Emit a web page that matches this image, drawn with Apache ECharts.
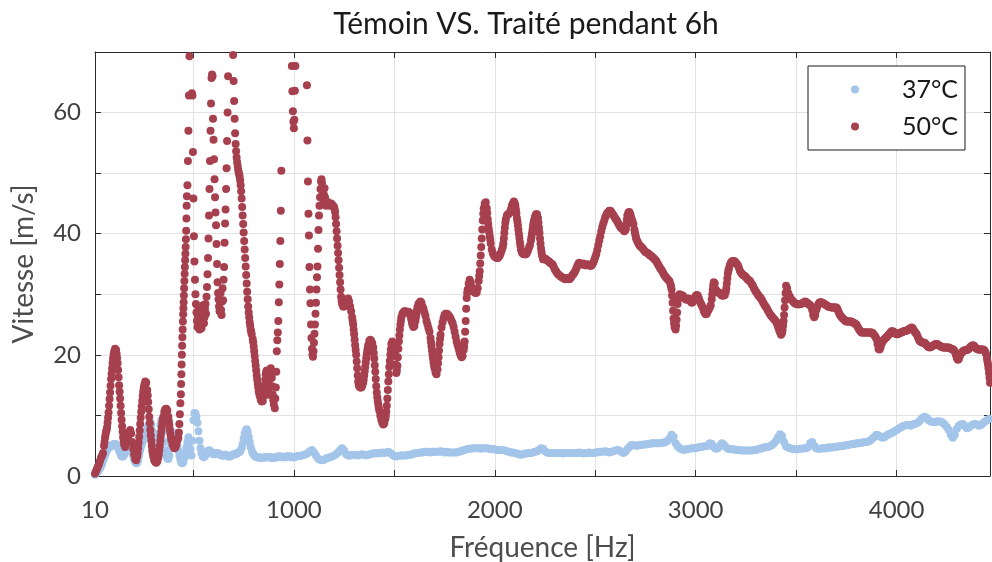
<!DOCTYPE html>
<html>
<head>
<meta charset="utf-8">
<script src="https://cdn.jsdelivr.net/npm/echarts@6/dist/echarts.min.js"></script>
<style>
  html, body { margin: 0; padding: 0; background: #ffffff; }
  #chart { width: 992px; height: 562px; }
</style>
</head>
<body>
<div id="chart"></div>
<script>
const titleText = 'Témoin VS. Traité pendant 6h';
const xName = 'Fréquence [Hz]';
const yName = 'Vitesse [m/s]';
const seriesNames = ['37°C', '50°C'];
const xLabelTicks = [10, 1000, 2000, 3000, 4000];
const xGridTicks = [10, 500, 1000, 1500, 2000, 2500, 3000, 3500, 4000];
const yLabelTicks = [0, 20, 40, 60];
const xMin = 10, xMax = 4465, yMin = 0, yMax = 70;

// 37 °C : 5 Hz resolution up to 1005 Hz
const v37LowStart = 10, v37LowStep = 5;
const v37Low = [
  0.2, 0.4, 0.6, 0.8, 1.0, 1.3, 1.6, 2.0, 2.5, 3.0,
  3.4, 3.8, 4.2, 4.5, 4.7, 4.8, 5.0, 5.1, 5.2, 5.3,
  5.3, 5.2, 5.0, 4.6, 4.2, 3.8, 3.4, 3.2, 3.2, 3.5,
  3.9, 4.2, 4.6, 5.0, 5.3, 5.2, 4.6, 3.8, 3.2, 2.7,
  2.3, 2.1, 2.2, 2.6, 3.4, 4.2, 4.9, 5.5, 6.0, 6.4,
  6.8, 7.2, 7.7, 8.3, 8.8, 8.9, 8.4, 7.4, 6.4, 5.4,
  4.6, 4.2, 4.4, 5.4, 7.0, 8.4, 9.2, 8.8, 7.4, 5.6,
  4.2, 3.4, 2.9, 2.8, 3.4, 4.6, 5.9, 6.6, 7.0, 7.1,
  6.8, 6.0, 5.0, 4.2, 3.4, 2.7, 2.2, 2.1, 2.3, 3.0,
  3.9, 4.7, 5.6, 6.4, 5.6, 4.4, 3.4, 5.8, 9.2, 10.4,
  10.3, 9.8, 8.8, 7.4, 5.8, 4.6, 3.8, 3.3, 3.1, 3.2,
  3.4, 3.7, 4.0, 4.2, 4.2, 4.1, 3.9, 3.7, 3.6, 3.6,
  3.7, 3.8, 3.8, 3.7, 3.6, 3.5, 3.4, 3.4, 3.4, 3.5,
  3.5, 3.4, 3.3, 3.2, 3.2, 3.3, 3.4, 3.5, 3.6, 3.6,
  3.6, 3.7, 3.8, 3.9, 4.0, 4.2, 4.6, 5.3, 6.2, 7.0,
  7.5, 7.7, 7.3, 6.5, 5.6, 4.8, 4.2, 3.8, 3.5, 3.3,
  3.2, 3.1, 3.1, 3.1, 3.0, 3.0, 3.0, 3.0, 3.0, 3.1,
  3.1, 3.1, 3.1, 3.1, 3.1, 3.0, 3.0, 3.0, 3.0, 3.0,
  3.1, 3.1, 3.2, 3.2, 3.2, 3.2, 3.1, 3.1, 3.1, 3.1,
  3.2, 3.2, 3.2, 3.2, 3.2, 3.2, 3.1, 3.1, 3.1, 3.1
];
// 37 °C : 10 Hz resolution from 1010 Hz
const v37HighStart = 1010, v37HighStep = 10;
const v37High = [
  3.2, 3.3, 3.3, 3.4, 3.5, 3.6, 3.8, 4.1, 4.3, 3.9,
  3.4, 2.9, 2.7, 2.6, 2.7, 2.9, 3.0, 3.1, 3.2, 3.4,
  3.6, 3.9, 4.3, 4.6, 4.2, 3.6, 3.4, 3.4, 3.5, 3.5,
  3.5, 3.4, 3.5, 3.6, 3.5, 3.4, 3.5, 3.6, 3.7, 3.7,
  3.8, 3.7, 3.8, 3.9, 3.8, 3.9, 4.0, 3.8, 3.5, 3.3,
  3.2, 3.3, 3.4, 3.4, 3.4, 3.4, 3.5, 3.5, 3.6, 3.7,
  3.8, 3.8, 3.9, 3.9, 4.0, 4.0, 4.0, 3.9, 4.0, 4.0,
  4.0, 4.0, 4.1, 4.0, 3.9, 4.0, 3.9, 3.9, 3.9, 3.9,
  3.9, 4.0, 4.1, 4.2, 4.3, 4.4, 4.5, 4.5, 4.6, 4.6,
  4.6, 4.6, 4.5, 4.6, 4.6, 4.6, 4.5, 4.5, 4.4, 4.4,
  4.3, 4.3, 4.3, 4.3, 4.2, 4.1, 4.0, 3.9, 3.9, 3.8,
  3.7, 3.6, 3.5, 3.6, 3.7, 3.7, 3.8, 3.8, 3.9, 4.0,
  4.1, 4.3, 4.6, 4.5, 4.1, 3.9, 3.8, 3.8, 3.8, 3.8,
  3.8, 3.8, 3.8, 3.7, 3.8, 3.8, 3.8, 3.8, 3.8, 3.8,
  3.8, 3.9, 3.8, 3.7, 3.8, 3.8, 3.9, 3.8, 3.8, 3.9,
  3.9, 4.0, 4.0, 4.0, 4.1, 4.0, 3.9, 4.0, 4.1, 4.2,
  4.3, 4.2, 4.0, 3.8, 4.0, 4.4, 4.8, 5.1, 5.1, 5.0,
  5.0, 5.1, 5.1, 5.2, 5.2, 5.3, 5.3, 5.4, 5.4, 5.4,
  5.4, 5.4, 5.5, 5.5, 5.6, 5.8, 6.2, 6.8, 6.5, 5.4,
  4.9, 4.6, 4.4, 4.3, 4.4, 4.4, 4.5, 4.6, 4.6, 4.6,
  4.7, 4.8, 4.8, 4.9, 4.9, 5.0, 5.4, 5.3, 4.8, 4.5,
  4.6, 5.0, 5.4, 5.2, 4.8, 4.5, 4.4, 4.4, 4.4, 4.3,
  4.3, 4.3, 4.2, 4.2, 4.2, 4.2, 4.2, 4.2, 4.3, 4.3,
  4.4, 4.5, 4.6, 4.7, 4.8, 4.8, 4.9, 5.1, 5.4, 5.8,
  6.4, 6.9, 6.6, 5.6, 4.9, 4.7, 4.6, 4.5, 4.4, 4.4,
  4.4, 4.5, 4.5, 4.6, 4.6, 4.8, 5.4, 5.6, 5.0, 4.6,
  4.5, 4.5, 4.6, 4.6, 4.6, 4.7, 4.7, 4.7, 4.8, 4.8,
  4.9, 4.9, 5.0, 5.0, 5.1, 5.1, 5.2, 5.3, 5.3, 5.4,
  5.4, 5.5, 5.5, 5.6, 5.6, 5.7, 5.9, 6.2, 6.5, 6.8,
  6.7, 6.5, 6.3, 6.4, 6.7, 6.9, 7.0, 7.2, 7.4, 7.6,
  7.8, 8.0, 8.2, 8.3, 8.4, 8.4, 8.3, 8.5, 8.6, 8.7,
  8.9, 9.3, 9.6, 9.8, 9.6, 9.2, 9.0, 8.9, 8.9, 9.0,
  9.0, 9.0, 8.8, 8.5, 8.1, 7.6, 6.8, 6.3, 6.8, 7.8,
  8.3, 8.5, 8.6, 8.3, 7.9, 8.0, 8.3, 8.5, 8.6, 8.5,
  8.3, 8.4, 8.7, 9.0, 9.2, 9.4
];

// 50 °C : 5 Hz resolution from 10 to 435 Hz
const v50LowStart = 10, v50LowStep = 5;
const v50Low = [
  0.4, 0.8, 1.2, 1.6, 2.0, 2.5, 3.0, 3.4, 3.8, 5.0,
  6.3, 7.3, 8.0, 9.6, 11.6, 13.8, 16.0, 17.8, 19.4, 20.5,
  21.0, 20.8, 19.5, 17.5, 15.0, 12.8, 10.4, 8.2, 6.4, 5.2,
  4.8, 5.3, 5.8, 6.5, 7.2, 7.6, 7.0, 5.6, 4.5, 3.6,
  2.8, 2.6, 3.2, 4.6, 6.5, 8.6, 10.6, 12.4, 13.9, 15.0,
  15.6, 15.4, 14.2, 12.2, 9.8, 7.6, 5.8, 4.2, 3.2, 2.6,
  2.3, 2.2, 2.4, 3.0, 4.2, 5.8, 7.4, 8.8, 9.8, 10.6,
  11.0, 11.1, 10.8, 9.8, 8.4, 7.0, 6.0, 5.3, 4.9, 4.6,
  4.7, 5.2, 5.9, 6.3, 8.6, 12.0
];
// 50 °C : resonance band 437–1160 Hz, finer and irregular sampling [Hz, m/s]
const v50Resonance = [
  [437.5, 13.5], [438.75, 15.2], [440, 16.8], [441.25, 18.4], [442.5, 20.0], [443.75, 21.5],
  [445, 22.9], [446.25, 24.2], [447.5, 25.5], [448.75, 26.7], [450, 27.7], [451.25, 28.7],
  [452.5, 29.8], [453.75, 31.0], [455, 32.2], [456.25, 33.4], [457.5, 34.5], [458.75, 35.6],
  [460, 36.7], [461.25, 37.8], [462.5, 39.1], [463.75, 40.5], [465, 42.5], [466.25, 44.6],
  [467.5, 46.2], [470, 48.0], [472.5, 52.0], [475, 57.0], [477.5, 62.8], [480, 69.3],
  [482.5, 73.5], [485, 76.0], [487.5, 74.0], [490, 71.0], [492.5, 63.2], [495, 62.8],
  [497.5, 53.5], [500, 45.8], [502.5, 39.6], [505, 35.4], [507.5, 32.4], [510, 30.0],
  [512.5, 28.4], [515, 27.0], [517.5, 25.6], [520, 24.6], [522.5, 26.2], [525, 27.8],
  [527.5, 25.2], [530, 24.2], [532.5, 25.8], [535, 27.4], [537.5, 26.0], [540, 24.4],
  [542.5, 25.0], [545, 26.8], [547.5, 28.2], [550, 26.4], [552.5, 25.2], [555, 26.2],
  [557.5, 27.6], [560, 28.4], [562.5, 26.8], [565, 29.6], [567.5, 31.2], [570, 33.3],
  [572.5, 36.0], [575, 39.2], [577.5, 43.0], [580, 47.4], [582.5, 52.0], [585, 57.0],
  [587.5, 61.5], [590, 65.7], [592.5, 66.3], [595, 66.0], [597.5, 59.0], [600, 55.5],
  [602.5, 52.3], [605, 49.0], [607.5, 46.0], [610, 43.5], [612.5, 41.4], [615, 38.3],
  [617.5, 35.0], [620, 32.0], [622.5, 30.2], [625, 29.2], [627.5, 28.0], [630, 27.2],
  [632.5, 28.6], [635, 30.2], [637.5, 27.4], [640, 26.6], [642.5, 28.8], [645, 31.0],
  [647.5, 29.0], [650, 32.4], [652.5, 34.5], [655, 38.5], [657.5, 41.7], [660, 44.0],
  [662.5, 47.4], [665, 50.8], [667.5, 55.3], [670, 60.0], [672.5, 66.0], [675, 73.0],
  [680, 77.0], [685, 78.0], [690, 75.0], [695, 71.5], [697.5, 69.5], [700, 65.2],
  [702.5, 61.9], [705, 59.0], [707.5, 56.6], [710, 54.8], [712.5, 53.6], [715, 52.6],
  [717.5, 51.8], [720, 51.2], [722.5, 50.6], [725, 50.2], [727.5, 49.8], [730, 49.4],
  [732.5, 48.8], [735, 48.0], [737.5, 47.0], [740, 45.8], [742.5, 44.4], [745, 43.0],
  [747.5, 41.6], [750, 40.2], [752.5, 38.8], [755, 37.4], [757.5, 36.0], [760, 34.6],
  [762.5, 33.2], [765, 31.8], [767.5, 30.4], [770, 29.2], [772.5, 28.0], [775, 27.0],
  [777.5, 26.2], [780, 25.4], [782.5, 24.8], [785, 24.2], [787.5, 23.8], [790, 23.4],
  [795, 22.6], [800, 21.4], [805, 19.8], [810, 18.2], [815, 16.6], [820, 15.2],
  [825, 14.0], [830, 13.2], [835, 12.6], [840, 12.3], [845, 12.4], [850, 13.2],
  [855, 15.0], [860, 16.8], [865, 17.4], [870, 15.2], [875, 13.4], [880, 16.0],
  [885, 17.8], [890, 16.2], [895, 13.4], [900, 11.8], [905, 11.2], [907.5, 12.8],
  [910, 14.6], [912.5, 17.2], [915, 20.6], [917.5, 22.4], [920, 23.7], [922.5, 25.6],
  [925, 28.7], [927.5, 31.6], [930, 35.0], [932.5, 38.8], [935, 43.8], [937.5, 50.4],
  [940, 72.0], [950, 80.0], [960, 82.0], [970, 80.0], [980, 75.0], [987.5, 71.0],
  [990, 67.7], [992.5, 63.5], [995, 60.2], [997.5, 58.5], [1000, 57.4], [1002.5, 58.8],
  [1005, 63.6], [1007.5, 67.7], [1010, 72.0], [1020, 76.0], [1030, 80.0], [1040, 80.0],
  [1050, 77.0], [1060, 72.0], [1065, 64.5], [1067.5, 55.4], [1070, 48.6], [1072.5, 43.3],
  [1075, 39.7], [1077.5, 34.5], [1080, 30.8], [1082.5, 28.5], [1085, 25.0], [1087.5, 22.8],
  [1090, 21.0], [1092.5, 20.0], [1095, 19.7], [1097.5, 20.6], [1100, 22.0], [1102.5, 23.5],
  [1105, 25.0], [1107.5, 26.8], [1110, 28.6], [1112.5, 30.8], [1115, 32.8], [1117.5, 34.6],
  [1120, 37.5], [1122.5, 40.6], [1125, 43.0], [1127.5, 44.6], [1130, 46.0], [1132.5, 47.4],
  [1135, 48.6], [1137.5, 49.0], [1140, 48.4], [1142.5, 47.0], [1145, 46.0], [1147.5, 45.4],
  [1150, 46.4], [1152.5, 47.5], [1155, 46.0], [1157.5, 44.8], [1160, 44.6]
];
// 50 °C : 5 Hz resolution from 1165 Hz
const v50HighStart = 1165, v50HighStep = 5;
const v50High = [
  44.8, 45.2, 45.0, 44.6, 45.0, 44.8, 44.6, 44.4, 43.6, 41.6, 39.2, 36.8, 34.4, 32.0, 29.6, 28.4, 28.0, 28.0, 28.2, 28.6,
  29.0, 29.3, 28.8, 28.0, 27.2, 26.2, 25.0, 23.4, 21.6, 20.0, 17.8, 15.6, 14.8, 14.6, 14.6, 14.8, 15.4, 16.6, 18.0, 19.4,
  20.6, 21.6, 22.3, 22.5, 22.3, 21.9, 21.2, 19.4, 17.2, 14.8, 13.0, 11.8, 10.8, 10.0, 9.3, 8.8, 8.5, 8.7, 9.4, 10.6,
  12.8, 15.6, 18.0, 20.0, 21.8, 22.2, 21.8, 21.2, 19.8, 17.0, 18.2, 21.0, 23.2, 25.0, 26.2, 26.8, 27.0, 27.2, 27.2, 27.0,
  27.0, 27.1, 27.0, 26.6, 25.8, 25.0, 24.6, 24.8, 25.6, 26.8, 27.8, 28.4, 28.6, 28.8, 28.6, 28.0, 27.6, 27.0, 26.4, 25.6,
  25.0, 24.4, 23.8, 22.8, 21.4, 20.0, 18.8, 17.8, 17.1, 16.8, 17.6, 19.6, 21.8, 23.3, 24.5, 25.4, 26.1, 26.6, 26.8, 26.8,
  26.7, 26.5, 26.3, 26.0, 25.6, 25.2, 24.6, 23.8, 23.0, 22.2, 21.6, 21.0, 20.4, 19.9, 19.6, 19.8, 20.8, 22.2, 25.6, 29.4,
  30.8, 31.8, 32.4, 32.0, 31.2, 30.8, 30.5, 30.3, 30.2, 30.3, 31.0, 32.2, 33.8, 36.4, 39.2, 42.2, 44.2, 45.0, 45.2, 44.2,
  42.4, 40.8, 39.6, 38.4, 37.4, 36.8, 36.4, 36.2, 36.1, 36.0, 36.0, 36.2, 36.4, 36.8, 37.3, 37.8, 39.2, 41.0, 42.4, 43.0,
  43.2, 43.3, 43.5, 44.0, 44.6, 45.0, 45.3, 45.0, 44.0, 42.6, 41.4, 40.0, 38.6, 37.4, 36.9, 36.7, 36.6, 36.6, 36.6, 36.8,
  37.2, 37.7, 38.1, 38.9, 40.0, 41.2, 42.2, 42.8, 43.2, 43.2, 42.6, 41.0, 39.2, 37.6, 36.4, 35.8, 35.8, 35.9, 35.8, 35.6,
  35.5, 35.4, 35.2, 35.1, 35.0, 34.8, 34.4, 34.0, 33.8, 33.5, 33.3, 33.2, 33.0, 32.9, 32.8, 32.7, 32.6, 32.5, 32.6, 32.7,
  32.6, 32.5, 32.6, 32.8, 33.1, 33.3, 33.5, 33.8, 34.2, 34.6, 35.0, 35.2, 35.0, 34.9, 35.0, 35.1, 35.0, 34.8, 34.8, 34.9,
  34.9, 34.8, 34.7, 34.7, 34.9, 35.2, 35.6, 36.1, 36.6, 37.3, 38.1, 38.9, 39.6, 40.4, 41.1, 41.7, 42.2, 42.7, 43.1, 43.4,
  43.6, 43.8, 43.8, 43.6, 43.3, 43.1, 42.8, 42.5, 42.3, 42.0, 41.7, 41.4, 41.1, 40.9, 40.8, 40.6, 40.4, 40.6, 41.6, 43.0,
  43.5, 43.6, 43.2, 42.6, 42.1, 41.6, 40.7, 39.8, 39.1, 38.7, 38.4, 38.1, 37.9, 37.8, 37.6, 37.4, 37.2, 37.0, 36.9, 36.8,
  36.7, 36.5, 36.4, 36.3, 36.1, 36.0, 35.8, 35.6, 35.4, 35.1, 34.8, 34.5, 34.2, 34.0, 33.7, 33.4, 33.1, 32.9, 32.7, 32.5,
  32.3, 32.1, 31.6, 30.8, 28.6, 26.0, 24.6, 24.2, 25.8, 28.4, 29.8, 30.0, 29.9, 29.8, 29.8, 29.6, 29.4, 29.2, 29.1, 29.2,
  29.3, 29.1, 28.8, 28.6, 28.7, 29.0, 29.4, 29.7, 29.9, 29.8, 29.4, 28.9, 28.5, 28.2, 27.8, 27.3, 26.9, 26.7, 26.8, 27.2,
  27.5, 27.8, 28.2, 29.2, 30.8, 32.0, 31.8, 30.8, 30.4, 30.3, 30.3, 30.2, 30.0, 29.8, 29.8, 29.8, 29.9, 30.4, 31.8, 33.4,
  34.2, 34.8, 35.2, 35.4, 35.5, 35.5, 35.4, 35.2, 35.0, 34.8, 34.4, 33.9, 33.6, 33.4, 33.2, 33.1, 33.0, 32.8, 32.6, 32.4,
  32.3, 32.2, 31.9, 31.6, 31.4, 31.0, 30.7, 30.4, 30.2, 29.9, 29.7, 29.5, 29.3, 29.0, 28.7, 28.4, 28.1, 27.9, 27.6, 27.3,
  27.0, 26.7, 26.5, 26.3, 26.1, 25.9, 25.7, 25.5, 25.1, 24.6, 24.1, 23.7, 23.3, 23.6, 24.8, 26.6, 29.0, 31.4, 31.0, 30.2,
  29.8, 29.5, 29.2, 29.0, 28.8, 28.6, 28.5, 28.4, 28.4, 28.3, 28.4, 28.4, 28.4, 28.5, 28.6, 28.7, 28.8, 28.7, 28.6, 28.4,
  28.3, 28.2, 28.0, 27.4, 26.6, 26.2, 26.6, 27.4, 27.9, 28.3, 28.6, 28.7, 28.7, 28.6, 28.5, 28.4, 28.3, 28.2, 28.1, 28.0,
  27.9, 27.9, 27.8, 27.8, 27.8, 27.8, 27.8, 27.8, 27.6, 27.2, 26.8, 26.5, 26.3, 26.1, 25.9, 25.8, 25.6, 25.5, 25.5, 25.5,
  25.5, 25.5, 25.5, 25.4, 25.3, 25.2, 25.1, 25.0, 24.7, 24.4, 24.1, 23.9, 23.7, 23.7, 23.7, 23.7, 23.7, 23.7, 23.7, 23.7,
  23.7, 23.7, 23.7, 23.6, 23.4, 23.2, 23.0, 22.6, 21.8, 21.0, 20.9, 21.2, 21.8, 22.2, 22.4, 22.6, 22.8, 22.9, 23.1, 23.3,
  23.5, 23.7, 23.9, 23.9, 23.8, 23.6, 23.5, 23.4, 23.4, 23.5, 23.6, 23.7, 23.7, 23.8, 23.9, 23.9, 24.0, 24.0, 24.1, 24.2,
  24.3, 24.4, 24.5, 24.4, 24.1, 23.8, 23.6, 23.4, 23.0, 22.6, 22.3, 22.2, 22.1, 22.0, 22.0, 22.0, 21.8, 21.6, 21.4, 21.3,
  21.2, 21.3, 21.4, 21.5, 21.6, 21.7, 21.8, 21.8, 21.7, 21.6, 21.5, 21.4, 21.3, 21.2, 21.2, 21.2, 21.2, 21.2, 21.2, 21.2,
  21.1, 21.0, 21.0, 20.9, 20.8, 20.5, 20.0, 19.5, 19.2, 19.3, 19.8, 20.2, 20.4, 20.6, 20.7, 20.7, 20.8, 20.8, 20.9, 21.0,
  21.2, 21.4, 21.5, 21.6, 21.5, 21.3, 21.1, 21.0, 20.9, 20.9, 20.9, 20.9, 20.9, 20.9, 20.8, 20.6, 20.2, 19.4, 18.4, 17.0, 15.4
];
// 50 °C : extra readings on the steep flanks, half-way between the 5 Hz samples [Hz, m/s]
const v50Flanks = [
  [57.5, 5.6], [62.5, 6.8], [67.5, 7.6], [72.5, 8.8], [77.5, 10.5], [82.5, 12.7], [87.5, 14.9],
  [92.5, 16.9], [97.5, 18.6], [102.5, 20.0], [117.5, 20.2], [122.5, 18.6], [127.5, 16.3],
  [132.5, 13.9], [137.5, 11.6], [142.5, 9.3], [147.5, 7.3], [152.5, 5.8],
  [222.5, 3.8], [227.5, 5.5], [232.5, 7.5], [237.5, 9.6], [242.5, 11.5], [247.5, 13.2], [252.5, 14.5],
  [272.5, 13.3], [277.5, 11.0], [282.5, 8.7], [287.5, 6.7], [292.5, 5.0], [297.5, 3.7],
  [327.5, 3.5], [332.5, 5.0], [337.5, 6.6], [342.5, 8.1], [347.5, 9.3],
  [377.5, 9.1], [382.5, 7.7], [387.5, 6.5], [427.5, 7.2], [432.5, 10.2],
  [797.5, 22.1], [802.5, 20.6], [807.5, 19.0], [812.5, 17.4], [817.5, 15.9], [822.5, 14.6], [827.5, 13.6],
  [852.5, 14.0], [857.5, 15.9], [862.5, 17.2], [867.5, 16.3], [872.5, 14.2], [877.5, 14.6],
  [882.5, 17.0], [887.5, 17.2], [892.5, 14.8], [897.5, 12.5],
  [1202.5, 44.1], [1207.5, 42.7], [1212.5, 40.4], [1217.5, 38.0], [1222.5, 35.6], [1227.5, 33.2],
  [1232.5, 30.8], [1237.5, 28.9],
  [1292.5, 25.6], [1297.5, 24.2], [1302.5, 22.5], [1307.5, 20.8], [1312.5, 18.9], [1317.5, 16.6], [1322.5, 15.1],
  [1347.5, 15.9], [1352.5, 17.3], [1357.5, 18.7], [1362.5, 20.0], [1367.5, 21.1],
  [1397.5, 20.3], [1402.5, 18.3], [1407.5, 16.0], [1412.5, 13.8], [1417.5, 12.4], [1422.5, 11.3],
  [1457.5, 9.9], [1462.5, 11.6], [1467.5, 14.2], [1472.5, 16.8], [1477.5, 19.0], [1482.5, 20.9],
  [1502.5, 20.6], [1507.5, 18.4], [1512.5, 17.4], [1517.5, 19.6], [1522.5, 22.2], [1527.5, 24.2], [1532.5, 25.6],
  [1582.5, 26.2], [1587.5, 25.4], [1607.5, 26.2], [1612.5, 27.3],
  [1682.5, 22.1], [1687.5, 20.7], [1692.5, 19.4], [1697.5, 18.3], [1717.5, 18.6], [1722.5, 20.7], [1727.5, 22.6],
  [1847.5, 21.4], [1852.5, 23.8], [1857.5, 27.6], [1862.5, 30.2],
  [1922.5, 33.0], [1927.5, 35.1], [1932.5, 37.8], [1937.5, 40.7], [1942.5, 43.3],
  [1962.5, 43.4], [1967.5, 41.6], [1972.5, 40.2], [1977.5, 39.0],
  [2042.5, 38.4], [2047.5, 40.1], [2052.5, 41.8],
  [2102.5, 44.6], [2107.5, 43.4], [2112.5, 42.0], [2117.5, 40.7], [2122.5, 39.3], [2127.5, 38.0],
  [2182.5, 39.4], [2187.5, 40.6], [2192.5, 41.7], [2217.5, 41.8], [2222.5, 40.1], [2227.5, 38.4], [2232.5, 37.0],
  [2652.5, 40.9], [2657.5, 42.3], [2697.5, 40.2], [2702.5, 39.4],
  [2877.5, 31.3], [2882.5, 29.8], [2887.5, 27.3], [2892.5, 25.2], [2902.5, 24.8], [2907.5, 27.0], [2912.5, 29.2],
  [3082.5, 30.0], [3087.5, 31.5], [3152.5, 31.0], [3157.5, 32.6], [3162.5, 33.9],
  [3432.5, 24.1], [3437.5, 25.6], [3442.5, 27.8], [3447.5, 30.2],
  [4452.5, 18.9], [4457.5, 17.8], [4462.5, 16.2]
];

const FONT = 'Lato, "Open Sans", sans-serif';
const BLUE = '#a4c5ea';
const RED = '#a7404e';
const FRAME = '#2b2b2b';

// turn a uniformly sampled block into [Hz, value] pairs
function sampled(start, step, values) {
  return values.map((v, i) => [start + i * step, v]);
}

const data37 = sampled(v37LowStart, v37LowStep, v37Low)
  .concat(sampled(v37HighStart, v37HighStep, v37High));
const data50 = sampled(v50LowStart, v50LowStep, v50Low)
  .concat(v50Resonance)
  .concat(sampled(v50HighStart, v50HighStep, v50High))
  .concat(v50Flanks)
  .sort((a, b) => a[0] - b[0]);

const chart = echarts.init(document.getElementById('chart'), null, { renderer: 'canvas' });

const frameAxis = {
  axisLine: { show: true, onZero: false, lineStyle: { color: FRAME, width: 1 } },
  axisTick: { show: true, inside: true, length: 6, lineStyle: { color: FRAME, width: 1 } }
};

chart.setOption({
  animation: false,
  backgroundColor: '#ffffff',
  title: {
    text: titleText,
    left: 521,
    top: 4,
    textAlign: 'center',
    textStyle: { fontFamily: FONT, fontSize: 30, fontWeight: 'normal', color: '#1a1a1a' }
  },
  legend: {
    orient: 'vertical',
    left: 808,
    top: 66,
    padding: [11, 7, 11, 43],
    itemGap: 12,
    itemWidth: 8,
    itemHeight: 8,
    icon: 'circle',
    backgroundColor: '#ffffff',
    borderColor: '#1a1a1a',
    borderWidth: 1,
    borderRadius: 0,
    data: seriesNames,
    formatter: name => '{t|' + name + '}',
    textStyle: {
      rich: {
        t: { width: 94, align: 'right', fontFamily: FONT, fontSize: 25, lineHeight: 28, color: '#1a1a1a' }
      }
    }
  },
  grid: { left: 95, top: 52, right: 2, bottom: 86, containLabel: false, outerBoundsMode: 'none' },
  xAxis: [
    Object.assign({}, frameAxis, {
      type: 'value',
      position: 'bottom',
      min: xMin,
      max: xMax,
      axisTick: Object.assign({}, frameAxis.axisTick, { customValues: xGridTicks }),
      axisLabel: {
        customValues: xLabelTicks,
        formatter: v => String(v),
        fontFamily: FONT, fontSize: 24, color: '#404040', margin: 22
      },
      splitLine: { show: true, lineStyle: { color: '#e2e2e2', width: 1 } },
      name: xName,
      nameLocation: 'middle',
      nameGap: 58,
      nameTextStyle: { fontFamily: FONT, fontSize: 28, color: '#4d4d4d' }
    }),
    Object.assign({}, frameAxis, {
      type: 'value',
      position: 'top',
      min: xMin,
      max: xMax,
      axisTick: Object.assign({}, frameAxis.axisTick, { customValues: xGridTicks }),
      axisLabel: { show: false },
      splitLine: { show: false }
    })
  ],
  yAxis: [
    Object.assign({}, frameAxis, {
      type: 'value',
      position: 'left',
      min: yMin,
      max: yMax,
      interval: 10,
      axisLabel: {
        customValues: yLabelTicks,
        fontFamily: FONT, fontSize: 24, color: '#404040', margin: 14
      },
      splitLine: { show: true, lineStyle: { color: '#e2e2e2', width: 1 } },
      name: yName,
      nameLocation: 'middle',
      nameGap: 57,
      nameTextStyle: { fontFamily: FONT, fontSize: 28, color: '#4d4d4d' }
    }),
    Object.assign({}, frameAxis, {
      type: 'value',
      position: 'right',
      min: yMin,
      max: yMax,
      interval: 10,
      axisLabel: { show: false },
      splitLine: { show: false }
    })
  ],
  series: [
    {
      name: seriesNames[0],
      type: 'scatter',
      xAxisIndex: 0,
      yAxisIndex: 0,
      data: data37,
      symbol: 'circle',
      symbolSize: 8,
      clip: true,
      itemStyle: { color: BLUE, opacity: 1 },
      emphasis: { disabled: true }
    },
    {
      name: seriesNames[1],
      type: 'scatter',
      xAxisIndex: 0,
      yAxisIndex: 0,
      data: data50,
      symbol: 'circle',
      symbolSize: 8,
      clip: true,
      itemStyle: { color: RED, opacity: 1 },
      emphasis: { disabled: true }
    }
  ]
});
</script>
</body>
</html>
